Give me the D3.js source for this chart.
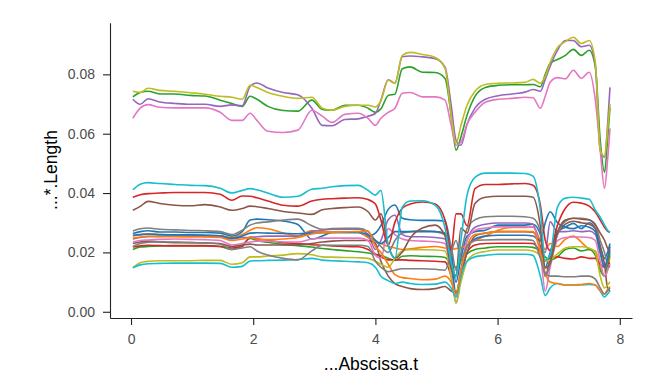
<!DOCTYPE html>
<html lang="en">
<head>
<meta charset="UTF-8">
<title>Length over Abscissa</title>
<script src="https://d3js.org/d3.v7.min.js"></script>
<style>
    body { margin: 0; background: #fff; }
    svg text { font-family: "Liberation Sans", Arial, sans-serif; }
</style>
</head>
<body>
<svg id="chart" width="664" height="376"></svg>
<script>
// sample positions (t)
const abscissa = [0.03, 0.15, 0.28, 0.47, 0.72, 0.97, 1.21, 1.46, 1.65, 1.82,
    1.95, 2.06, 2.24, 2.49, 2.73, 2.96, 3.13, 3.29, 3.50, 3.72, 3.88, 4.00, 4.09,
    4.21, 4.32, 4.44, 4.57, 4.77, 4.98, 5.14, 5.24, 5.32, 5.40, 5.50, 5.63, 5.80,
    6.01, 6.24, 6.45, 6.58, 6.70, 6.78, 6.86, 6.98, 7.11, 7.24, 7.37, 7.50, 7.60,
    7.68, 7.75, 7.80, 7.84];

// lengths, in units of 1e-3
const len01 = [26.4, 27.0, 27.3, 26.9, 26.9, 26.7, 26.7, 26.5, 25.5, 27.0, 30.9, 31.2, 31.0, 30.6, 29.4, 24.5, 25.5, 26.7, 26.7, 26.7, 25.5, 26.5, 29.0, 34.5, 36.0, 31.5, 31.0, 30.8, 30.8, 30.5, 21.0, 10.0, 18.0, 25.5, 27.0, 27.5, 29.2, 29.2, 29.2, 29.5, 26.0, 15.0, 20.0, 27.0, 28.5, 29.8, 28.0, 30.0, 28.0, 22.0, 18.0, 20.0, 23.0];
const len02 = [25.5, 26.0, 26.2, 26.0, 25.9, 25.8, 25.8, 25.6, 25.0, 26.0, 27.5, 28.3, 28.0, 26.5, 25.6, 27.4, 27.0, 26.9, 26.9, 26.9, 25.0, 23.5, 23.0, 22.0, 21.5, 21.0, 21.2, 21.7, 22.0, 21.5, 21.0, 21.3, 21.5, 22.5, 24.0, 25.5, 27.5, 28.4, 28.4, 28.6, 24.0, 21.0, 23.0, 22.0, 24.5, 25.5, 23.5, 21.0, 20.5, 15.0, 12.0, 14.0, 19.0];
const len03 = [21.0, 21.8, 22.0, 22.2, 22.3, 22.3, 22.3, 22.0, 21.0, 22.5, 24.7, 24.0, 23.4, 22.7, 22.3, 21.8, 21.3, 21.0, 20.6, 20.2, 19.8, 19.3, 19.0, 18.0, 17.3, 18.7, 18.9, 18.7, 18.6, 18.3, 16.0, 15.0, 17.0, 19.5, 21.0, 21.5, 21.9, 21.9, 21.9, 21.7, 20.5, 18.5, 17.4, 18.5, 21.0, 21.5, 20.5, 21.0, 19.0, 14.0, 12.0, 16.0, 20.0];
const len04 = [21.8, 22.2, 22.4, 22.3, 22.2, 22.2, 22.2, 22.0, 21.5, 22.0, 25.2, 24.6, 24.1, 23.3, 23.0, 22.6, 22.4, 22.2, 22.0, 21.9, 21.0, 19.5, 18.5, 17.5, 17.5, 17.5, 17.3, 17.2, 17.0, 16.8, 12.0, 6.0, 12.0, 20.0, 22.5, 23.0, 23.1, 23.1, 23.1, 23.0, 20.0, 17.0, 18.0, 18.5, 18.0, 17.8, 18.5, 18.0, 18.0, 16.0, 15.0, 16.0, 16.5];
const len05 = [24.5, 25.0, 25.3, 25.4, 25.5, 25.5, 25.4, 25.3, 24.5, 25.0, 25.0, 25.3, 25.5, 25.5, 25.5, 27.0, 27.5, 27.8, 27.8, 27.8, 26.0, 21.0, 24.0, 31.0, 32.5, 26.0, 25.3, 25.3, 25.0, 24.5, 15.0, 3.0, 12.0, 24.0, 28.5, 29.5, 29.9, 29.9, 29.9, 29.5, 22.0, 20.0, 30.3, 27.0, 27.0, 27.3, 27.0, 27.2, 26.0, 20.0, 15.0, 18.0, 21.0];
const len06 = [23.0, 23.5, 23.8, 23.5, 23.3, 23.3, 23.2, 23.0, 22.0, 22.5, 22.8, 22.5, 22.5, 22.5, 22.6, 23.0, 23.5, 23.8, 24.0, 24.0, 24.0, 23.0, 17.0, 12.0, 9.5, 8.5, 7.8, 7.5, 7.8, 8.5, 7.0, 6.5, 12.0, 20.0, 25.5, 26.5, 27.0, 27.0, 27.0, 26.8, 22.0, 12.0, 18.0, 26.0, 29.5, 30.5, 30.0, 29.5, 28.0, 22.0, 16.0, 8.0, 7.0];
const len07 = [23.5, 24.0, 24.2, 24.4, 24.5, 24.4, 24.3, 24.0, 22.5, 23.0, 23.5, 23.8, 23.8, 23.5, 23.5, 24.5, 24.8, 24.8, 24.8, 24.8, 24.0, 19.0, 18.0, 28.0, 26.0, 24.5, 24.0, 23.8, 23.6, 23.0, 12.0, 5.0, 14.0, 24.0, 27.5, 28.2, 28.6, 28.6, 28.6, 28.5, 20.0, 7.0, 15.0, 24.0, 25.0, 25.2, 25.2, 25.0, 24.0, 17.0, 12.0, 14.0, 16.0];
const len08 = [27.2, 28.0, 28.2, 27.8, 27.6, 27.4, 27.3, 27.0, 26.0, 27.5, 29.2, 29.9, 30.3, 30.9, 31.2, 29.0, 27.8, 28.0, 28.1, 28.1, 27.0, 24.0, 22.0, 20.0, 24.0, 26.5, 27.0, 27.3, 27.0, 26.0, 22.0, 14.0, 20.0, 28.0, 31.0, 32.0, 32.2, 32.2, 32.0, 31.5, 27.0, 12.0, 16.0, 26.0, 30.5, 31.5, 31.5, 31.0, 29.5, 24.0, 20.0, 16.0, 15.0];
const len09 = [14.8, 16.5, 17.0, 17.2, 17.2, 17.2, 17.3, 17.3, 16.0, 16.5, 18.5, 18.5, 18.8, 19.1, 19.6, 19.2, 18.5, 18.4, 18.3, 18.2, 18.0, 17.0, 16.0, 15.0, 18.0, 20.5, 20.9, 20.9, 20.8, 20.5, 12.0, 3.0, 10.0, 17.0, 19.5, 20.3, 20.8, 20.8, 20.8, 20.5, 19.0, 17.0, 17.5, 19.5, 21.5, 21.9, 21.9, 21.5, 20.0, 12.0, 8.0, 9.0, 10.0];
const len10 = [14.8, 15.8, 16.2, 16.3, 16.4, 16.4, 16.4, 16.3, 15.0, 15.3, 17.1, 17.2, 17.3, 17.4, 17.6, 18.0, 17.4, 17.2, 17.0, 16.8, 16.5, 15.0, 12.0, 10.5, 9.5, 10.0, 9.5, 9.2, 9.3, 10.0, 8.0, 5.0, 12.0, 17.0, 18.5, 19.0, 19.4, 19.4, 19.4, 19.0, 12.0, 5.5, 8.0, 9.5, 9.0, 9.0, 9.0, 9.2, 9.0, 7.0, 5.0, 6.0, 7.0];
const len11 = [25.8, 26.0, 26.2, 26.0, 25.9, 25.9, 25.8, 25.6, 24.8, 25.5, 26.5, 26.6, 26.5, 26.4, 26.3, 26.5, 26.6, 26.7, 26.7, 26.7, 26.0, 24.0, 23.0, 25.0, 27.0, 27.0, 27.0, 27.0, 27.0, 26.5, 18.0, 6.0, 14.0, 22.0, 24.5, 25.5, 25.8, 25.8, 25.8, 25.5, 24.0, 30.0, 33.7, 30.0, 28.5, 28.0, 29.0, 28.5, 27.0, 20.0, 15.0, 18.0, 22.0];
const len12 = [24.8, 25.2, 25.5, 25.3, 25.3, 25.2, 25.2, 25.0, 24.0, 24.5, 25.0, 24.5, 24.3, 24.5, 25.0, 26.2, 26.6, 26.7, 26.9, 27.0, 27.2, 22.0, 20.0, 16.0, 12.5, 11.5, 11.2, 10.8, 11.0, 12.0, 10.0, 6.0, 14.0, 22.0, 26.0, 26.5, 27.0, 27.0, 27.0, 27.0, 20.0, 13.0, 10.0, 9.5, 9.0, 9.0, 9.2, 9.5, 9.0, 7.0, 6.0, 7.5, 8.5];
const len13 = [72.4, 73.9, 74.3, 73.4, 73.4, 72.9, 72.7, 71.3, 70.2, 69.2, 72.6, 71.6, 69.2, 67.8, 67.6, 71.3, 68.2, 67.9, 69.6, 69.6, 68.6, 67.2, 68.4, 72.9, 73.3, 81.9, 82.5, 80.7, 80.6, 78.6, 66.2, 54.4, 58.9, 66.2, 72.6, 75.6, 76.3, 76.5, 76.5, 76.6, 75.8, 80.0, 83.7, 85.0, 86.4, 88.4, 86.4, 88.1, 82.5, 57.8, 47.0, 57.8, 68.9];
const len14 = [38.6, 39.4, 39.8, 40.0, 40.2, 40.2, 40.2, 39.6, 37.6, 39.0, 38.9, 38.4, 37.3, 35.9, 35.6, 37.3, 37.9, 38.1, 38.3, 38.4, 37.8, 36.3, 30.9, 22.4, 30.2, 34.9, 36.3, 37.0, 36.3, 30.9, 20.7, 33.0, 33.0, 29.0, 41.5, 42.9, 42.9, 43.1, 43.2, 42.6, 35.9, 24.1, 20.7, 29.2, 34.9, 36.9, 36.6, 35.6, 33.6, 30.9, 28.5, 27.2, 26.8];
const len15 = [71.6, 69.9, 71.8, 70.7, 70.2, 69.9, 69.9, 69.2, 69.7, 69.4, 76.0, 77.1, 75.4, 73.9, 73.1, 68.6, 62.8, 62.7, 64.8, 65.0, 65.9, 66.8, 71.3, 78.2, 77.0, 85.9, 86.2, 85.9, 85.3, 82.4, 69.6, 57.8, 56.1, 63.2, 68.6, 71.6, 72.8, 73.4, 74.0, 74.9, 74.3, 78.3, 82.7, 88.1, 91.4, 91.4, 89.3, 89.8, 83.0, 54.4, 52.1, 62.8, 75.6];
const len16 = [34.2, 35.5, 37.2, 36.5, 35.9, 35.7, 36.1, 35.3, 34.2, 34.8, 35.6, 35.4, 34.8, 33.8, 33.3, 32.8, 34.4, 34.8, 35.1, 35.3, 33.7, 30.9, 33.0, 22.4, 18.1, 20.1, 24.8, 28.2, 29.2, 25.5, 14.7, 12.4, 28.2, 26.5, 36.5, 38.6, 38.9, 38.9, 38.9, 38.6, 28.8, 14.7, 16.7, 26.8, 30.9, 31.5, 31.2, 30.9, 29.2, 26.5, 24.1, 21.4, 20.1];
const len17 = [65.2, 68.6, 69.8, 68.9, 68.7, 68.7, 68.7, 67.2, 64.5, 64.5, 66.9, 64.5, 60.8, 60.4, 61.2, 67.9, 65.9, 63.8, 66.5, 66.9, 65.2, 62.8, 65.2, 67.2, 68.6, 73.6, 73.9, 72.4, 72.4, 71.3, 62.8, 56.1, 57.1, 63.2, 67.2, 70.6, 71.6, 71.9, 72.3, 72.1, 68.6, 72.6, 77.3, 78.9, 78.5, 81.4, 78.7, 80.7, 71.3, 54.4, 41.6, 51.1, 61.8];
const len18 = [22.0, 23.0, 23.4, 23.6, 23.5, 23.3, 23.2, 22.8, 21.0, 21.5, 21.9, 20.5, 19.1, 18.0, 17.5, 20.5, 22.4, 22.4, 22.4, 22.4, 22.0, 17.0, 15.0, 13.5, 14.0, 14.5, 14.5, 14.5, 14.3, 14.0, 20.0, 24.0, 18.0, 22.0, 24.0, 24.2, 24.3, 24.3, 24.3, 24.0, 18.0, 13.0, 12.0, 12.0, 11.8, 11.8, 12.0, 12.0, 11.0, 8.0, 6.0, 7.0, 8.0];
const len19 = [74.3, 73.9, 75.3, 74.6, 74.3, 73.8, 73.3, 72.6, 72.3, 71.6, 76.3, 75.6, 73.9, 72.6, 71.9, 72.3, 68.6, 67.9, 69.2, 69.6, 69.6, 69.0, 71.1, 78.0, 77.0, 86.4, 87.4, 86.7, 85.7, 82.0, 66.2, 56.8, 62.8, 69.6, 74.3, 76.6, 77.0, 77.1, 77.3, 78.3, 77.0, 79.3, 84.0, 89.0, 91.0, 92.5, 90.4, 91.4, 84.0, 54.4, 52.4, 61.1, 70.0];
const len20 = [41.1, 43.0, 43.5, 43.2, 42.9, 42.6, 42.5, 41.6, 40.0, 40.9, 41.5, 41.1, 40.0, 38.6, 38.9, 41.3, 41.6, 42.1, 42.5, 42.6, 40.9, 39.3, 40.9, 22.4, 18.0, 35.2, 37.3, 37.4, 35.9, 28.2, 16.7, 11.7, 24.1, 39.3, 45.3, 46.7, 46.7, 46.7, 46.6, 45.7, 34.2, 17.4, 19.1, 35.3, 38.3, 38.6, 38.3, 37.9, 34.2, 31.9, 29.2, 27.5, 26.8];

const lengths = [len01, len02, len03, len04, len05, len06, len07, len08, len09, len10,
    len11, len12, len13, len14, len15, len16, len17, len18, len19, len20];

const xTicks = [0, 2, 4, 6, 8];
const yTicks = [0, 0.02, 0.04, 0.06, 0.08];
const unit = 1e-3;

const svg = d3.select('#chart');

// plot box: left spine at 110, bottom spine at 318
const x = d3.scaleLinear().domain([-0.344, 8.2]).range([110, 632]);
const y = d3.scaleLinear().domain([-0.0021, 0.0974]).range([318, 22.7]);
const color = d3.scaleOrdinal().domain(d3.range(10)).range(d3.schemeCategory10);

const line = d3.line()
    .x((d, i) => x(abscissa[i]))
    .y(d => y(d * unit))
    .curve(d3.curveMonotoneX);

svg.append('g')
    .selectAll('path')
    .data(lengths)
    .join('path')
    .attr('fill', 'none')
    .attr('stroke', (d, i) => color(i % 10))
    .attr('stroke-width', 1.6)
    .attr('stroke-linejoin', 'round')
    .attr('d', line);

// x axis
const gx = svg.append('g')
    .attr('transform', 'translate(0,318)')
    .call(d3.axisBottom(x).tickValues(xTicks).tickSize(7).tickSizeOuter(0).tickPadding(9));

// y axis
const gy = svg.append('g')
    .attr('transform', 'translate(110,0)')
    .call(d3.axisLeft(y).tickValues(yTicks).tickFormat(d3.format('.2f'))
        .tickSize(7).tickSizeOuter(0).tickPadding(8));

[gx, gy].forEach(g => {
    g.select('.domain').attr('stroke', '#222').attr('stroke-width', 1.1);
    g.selectAll('.tick line').attr('stroke', '#222').attr('stroke-width', 1.1);
    g.selectAll('.tick text').attr('fill', '#4d4d4d').style('font-size', '14px');
});

// axis titles
svg.append('text')
    .attr('x', 371)
    .attr('y', 370)
    .attr('text-anchor', 'middle')
    .style('font-size', '17.5px')
    .attr('fill', '#000')
    .text('...Abscissa.t');

svg.append('text')
    .attr('transform', 'translate(57,170) rotate(-90)')
    .attr('text-anchor', 'middle')
    .style('font-size', '17.5px')
    .attr('fill', '#000')
    .text('...*.Length');
</script>
</body>
</html>
